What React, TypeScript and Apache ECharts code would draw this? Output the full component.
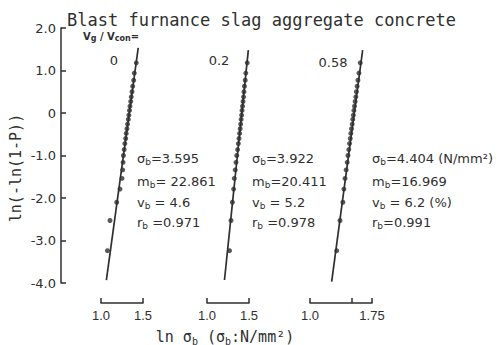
import React, { useEffect, useRef } from "react";
import * as echarts from "echarts";

// Weibull plotting positions ln(-ln(1-P)) for the 25 specimens of each mix
const rankLevels = [
  -3.24, -2.53, -2.1, -1.79, -1.54, -1.34, -1.16, -1.0, -0.86, -0.72, -0.6, -0.48, -0.37,
  -0.26, -0.15, -0.05, 0.06, 0.16, 0.27, 0.38, 0.5, 0.63, 0.77, 0.94, 1.18,
];

// ln(sigma_b) of the ordered specimens, Vg/Vcon = 0, 0.2, 0.58
const lnSigmaMix0 = [
  1.077, 1.107, 1.187, 1.226, 1.25, 1.258, 1.263, 1.267, 1.276, 1.284, 1.294, 1.3, 1.309,
  1.316, 1.325, 1.331, 1.339, 1.345, 1.354, 1.36, 1.369, 1.377, 1.389, 1.396, 1.42,
];
const lnSigmaMix02 = [
  1.268, 1.286, 1.302, 1.317, 1.325, 1.336, 1.345, 1.354, 1.364, 1.373, 1.381, 1.388, 1.395,
  1.401, 1.406, 1.412, 1.417, 1.423, 1.429, 1.435, 1.44, 1.446, 1.455, 1.462, 1.479,
];
const lnSigmaMix058 = [
  1.323, 1.363, 1.398, 1.41, 1.424, 1.437, 1.45, 1.459, 1.469, 1.478, 1.487, 1.494, 1.502,
  1.51, 1.517, 1.524, 1.531, 1.538, 1.546, 1.554, 1.561, 1.57, 1.58, 1.592, 1.608,
];

// fitted Weibull lines (end points)
const fitMix0 = [[1.064, -3.93], [1.443, 1.53]];
const fitMix02 = [[1.208, -3.93], [1.492, 1.48]];
const fitMix058 = [[1.262, -3.97], [1.637, 1.48]];

// mix labels and Weibull statistics
const mixLabels = ["0", "0.2", "0.58"];
const sigmaB = [3.595, 3.922, 4.404];
const mB = [22.861, 20.411, 16.969];
const vB = [4.6, 5.2, 6.2];
const rB = [0.971, 0.978, 0.991];

// axis ticks
const yTicks = [-4, -3, -2, -1, 0, 1, 2];
const xTickSets = [[1, 1.5], [1, 1.5], [1, 1.5, 1.75]];
const xLabelSets = [[1, 1.5], [1, 1.5], [1, 1.75]];
const xMax = [1.5, 1.5, 1.75];

const ink = "#2f2f2f";
const SANS = "DejaVu Sans";
const MONO = "DejaVu Sans Mono";

function buildOption() {
  const pointSets = [lnSigmaMix0, lnSigmaMix02, lnSigmaMix058];
  const fits = [fitMix0, fitMix02, fitMix058];
  const layout = [
    { left: 101, width: 42 },
    { left: 207, width: 42 },
    { left: 310, width: 62 },
  ];

  const grid = layout.map((l) => ({ left: l.left, width: l.width, top: 28, height: 255 }));

  const xAxis = layout.map((_, i) => ({
    type: "value",
    gridIndex: i,
    min: 1,
    max: xMax[i],
    interval: 0.5,
    offset: 20,
    axisLine: { show: true, onZero: false, lineStyle: { color: ink, width: 1.5 } },
    axisTick: {
      show: true,
      inside: true,
      length: 5,
      customValues: xTickSets[i],
      lineStyle: { color: ink, width: 1.5 },
    },
    axisLabel: {
      show: true,
      customValues: xLabelSets[i],
      margin: 6,
      color: ink,
      fontFamily: "Liberation Sans",
      fontSize: 13,
      formatter: (v: number) => (v === 1 ? "1.0" : String(v)),
    },
    splitLine: { show: false },
  }));

  const yAxis = layout.map((_, i) => ({
    type: "value",
    gridIndex: i,
    min: -4,
    max: 2,
    interval: 1,
    show: i === 0,
    offset: 40,
    axisLine: { show: true, onZero: false, lineStyle: { color: ink, width: 1.5 } },
    axisTick: {
      show: true,
      inside: true,
      length: 5,
      customValues: yTicks,
      lineStyle: { color: ink, width: 1.5 },
    },
    axisLabel: {
      show: true,
      margin: 5,
      color: ink,
      fontFamily: SANS,
      fontSize: 13,
      formatter: (v: number) => (v === 0 ? "0" : v.toFixed(1)),
    },
    splitLine: { show: false },
  }));

  const series: any[] = [];
  layout.forEach((_, i) => {
    series.push({
      type: "line",
      xAxisIndex: i,
      yAxisIndex: i,
      data: fits[i],
      symbol: "none",
      clip: false,
      lineStyle: { color: ink, width: 1.7 },
      silent: true,
    });
    series.push({
      type: "scatter",
      xAxisIndex: i,
      yAxisIndex: i,
      data: pointSets[i].map((x, k) => [x, rankLevels[k]]),
      symbol: "circle",
      symbolSize: 5,
      clip: false,
      itemStyle: { color: ink },
      silent: true,
    });
  });

  const sub = { fontFamily: SANS, fontSize: 9, fill: ink, verticalAlign: "bottom" };
  const statText = (x: number, y: number, text: string) => ({
    type: "text",
    x,
    y,
    style: {
      text,
      fill: ink,
      fontFamily: SANS,
      fontSize: 13,
      lineHeight: 16,
      verticalAlign: "middle",
      rich: { s: sub },
    },
  });

  const blockX = [137, 252, 372];
  const rowY = [158, 181, 202, 222];
  const vSpace = ["v{s|b} = ", "v{s|b} = ", "v{s|b} = "];
  const rSpace = ["r{s|b} =", "r{s|b} =", "r{s|b}="];
  const mSpace = ["m{s|b}= ", "m{s|b}=", "m{s|b}="];

  const graphics: any[] = [];
  blockX.forEach((x, i) => {
    graphics.push(
      statText(x, rowY[0], "σ{s|b}=" + sigmaB[i].toFixed(3) + (i === 2 ? " (N/mm²)" : ""))
    );
    graphics.push(statText(x, rowY[1], mSpace[i] + mB[i].toFixed(3)));
    graphics.push(statText(x, rowY[2], vSpace[i] + vB[i].toFixed(1) + (i === 2 ? " (%)" : "")));
    graphics.push(statText(x, rowY[3], rSpace[i] + rB[i].toFixed(3)));
  });

  // mix labels above each line
  const mixPos = [
    [114, 60],
    [219, 60],
    [333, 62],
  ];
  mixLabels.forEach((t, i) => {
    graphics.push({
      type: "text",
      x: mixPos[i][0],
      y: mixPos[i][1],
      style: {
        text: t,
        fill: ink,
        fontFamily: SANS,
        fontSize: 13,
        align: "center",
        verticalAlign: "middle",
      },
    });
  });

  // title
  graphics.push({
    type: "text",
    x: 67,
    y: 20,
    style: {
      text: "Blast furnance slag aggregate concrete",
      fill: ink,
      fontFamily: MONO,
      fontSize: 17,
      verticalAlign: "middle",
    },
  });

  // volume ratio caption
  graphics.push({
    type: "text",
    x: 83,
    y: 36,
    style: {
      text: "V{s|g} / V{s|con}=",
      fill: ink,
      fontFamily: SANS,
      fontSize: 10,
      fontWeight: "bold",
      lineHeight: 12,
      verticalAlign: "middle",
      rich: { s: { fontFamily: SANS, fontSize: 8, fontWeight: "bold", fill: ink, verticalAlign: "bottom" } },
    },
  });

  // y-axis title
  graphics.push({
    type: "text",
    x: 16,
    y: 168,
    rotation: Math.PI / 2,
    style: {
      text: "ln(-ln(1-P))",
      fill: ink,
      fontFamily: MONO,
      fontSize: 15,
      align: "center",
      verticalAlign: "middle",
    },
  });

  // x-axis title
  graphics.push({
    type: "text",
    x: 225,
    y: 337,
    style: {
      text: "ln σ{s|b} (σ{s|b}:N/mm²)",
      fill: ink,
      fontFamily: MONO,
      fontSize: 15,
      lineHeight: 18,
      align: "center",
      verticalAlign: "middle",
      rich: { s: { fontFamily: MONO, fontSize: 10, fill: ink, verticalAlign: "bottom" } },
    },
  });

  return {
    animation: false,
    backgroundColor: "#ffffff",
    grid,
    xAxis,
    yAxis,
    series,
    graphic: { elements: graphics },
  };
}

export default function App() {
  const ref = useRef<HTMLDivElement>(null);
  useEffect(() => {
    if (!ref.current) return;
    const chart = echarts.init(ref.current, null, { renderer: "svg" });
    chart.setOption(buildOption() as any);
    return () => chart.dispose();
  }, []);
  return (
    <div
      ref={ref}
      style={{ position: "fixed", left: 0, top: 0, width: 500, height: 345, background: "#fff" }}
    />
  );
}
